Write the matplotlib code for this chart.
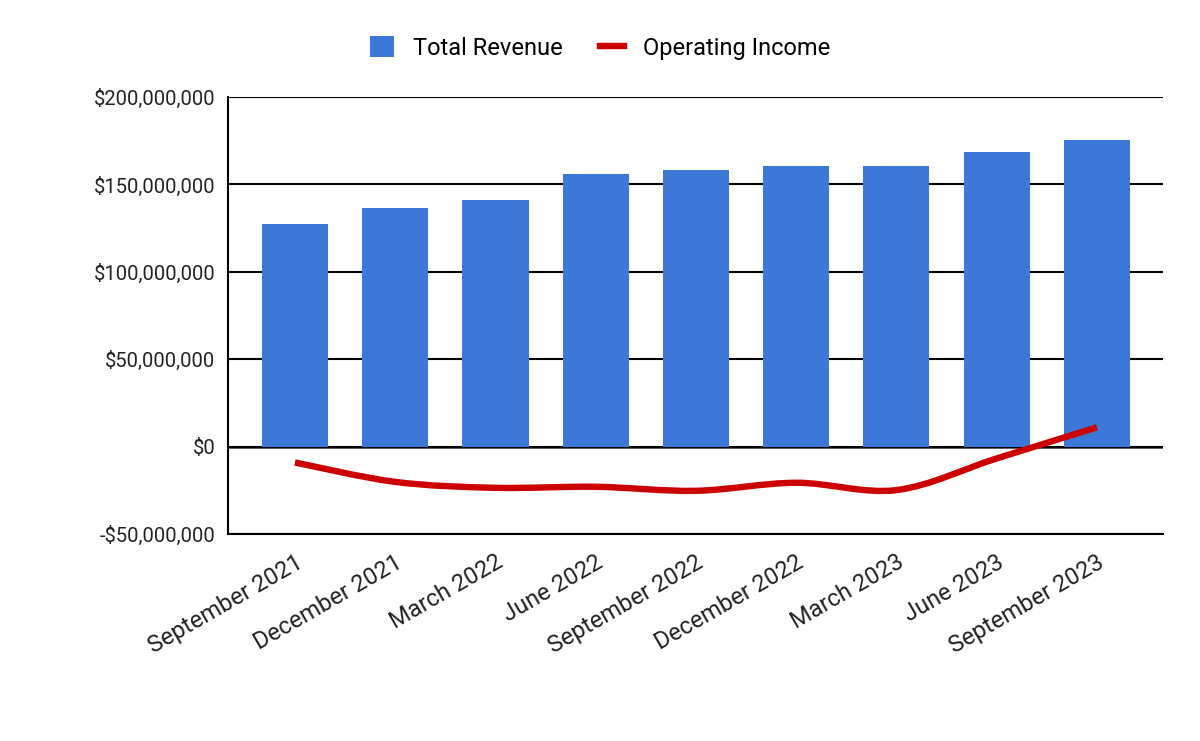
import numpy as np
import matplotlib
matplotlib.use("Agg")
import matplotlib.pyplot as plt
from matplotlib.path import Path
from matplotlib.patches import PathPatch, Patch
from matplotlib.lines import Line2D
from matplotlib.ticker import FuncFormatter

plt.rcParams['font.family'] = ['Roboto', 'DejaVu Sans']

quarters = ["September 2021", "December 2021", "March 2022", "June 2022",
            "September 2022", "December 2022", "March 2023", "June 2023",
            "September 2023"]
total_revenue = [127.5e6, 136.7e6, 141.2e6, 156.1e6, 158.4e6,
                 160.7e6, 160.7e6, 168.7e6, 175.6e6]
operating_income = [-9.1e6, -20.2e6, -23.6e6, -23.0e6, -25.3e6,
                    -20.7e6, -24.9e6, -6.8e6, 11.0e6]
y_ticks = [-50e6, 0, 50e6, 100e6, 150e6, 200e6]

bar_color = "#3c78d8"
line_color = "#cc0000"


def smooth_path(xs, ys, k=1 / 6):
    # cubic bezier through the points (catmull-rom style control points)
    verts = [(xs[0], ys[0])]
    codes = [Path.MOVETO]
    n = len(xs)
    for i in range(n - 1):
        x0, y0 = (xs[i - 1], ys[i - 1]) if i > 0 else (xs[i], ys[i])
        x1, y1 = xs[i], ys[i]
        x2, y2 = xs[i + 1], ys[i + 1]
        x3, y3 = (xs[i + 2], ys[i + 2]) if i + 2 < n else (x2, y2)
        verts += [(x1 + (x2 - x0) * k, y1 + (y2 - y0) * k),
                  (x2 - (x3 - x1) * k, y2 - (y3 - y1) * k),
                  (x2, y2)]
        codes += [Path.CURVE4] * 3
    return Path(verts, codes)


fig = plt.figure(figsize=(12, 7.41), dpi=100)
ax = fig.add_axes([0.19, 0.2794, 0.779, 0.5897])

x = np.arange(len(quarters))
ax.bar(x, total_revenue, width=0.66, color=bar_color, zorder=2)

ax.add_patch(PathPatch(smooth_path(x, operating_income), facecolor='none',
                       edgecolor=line_color, lw=4.6, capstyle='butt', zorder=3))

ax.set_xlim(-0.668, len(quarters) - 1 + 0.658)
ax.set_ylim(-50e6, 200e6)
ax.set_yticks(y_ticks)
ax.yaxis.set_major_formatter(FuncFormatter(
    lambda v, p: f"-${abs(v):,.0f}" if v < 0 else f"${v:,.0f}"))
ax.grid(axis='y', color='black', lw=1.5, zorder=0)
ax.axhline(0, color='#333333', lw=1.8, zorder=1)

ax.set_xticks(x)
ax.set_xticklabels(quarters, rotation=30, ha='right', rotation_mode='anchor')
ax.tick_params(axis='both', length=0, colors='#222222')
ax.tick_params(axis='x', pad=12, labelsize=17)
ax.tick_params(axis='y', pad=9, labelsize=14.5)

for side in ['top', 'right']:
    ax.spines[side].set_visible(False)
ax.spines['left'].set_linewidth(1.5)
ax.spines['bottom'].set_linewidth(1.5)

handles = [Patch(facecolor=bar_color, edgecolor='none'),
           Line2D([0], [0], color=line_color, lw=4.6)]
fig.legend(handles, ["Total Revenue", "Operating Income"], loc='center',
           bbox_to_anchor=(0.5, 0.935), ncol=2, frameon=False, fontsize=17,
           handlelength=1.0, handleheight=1.0, columnspacing=1.6,
           handletextpad=0.8)

fig.savefig("out.png", dpi=100)
